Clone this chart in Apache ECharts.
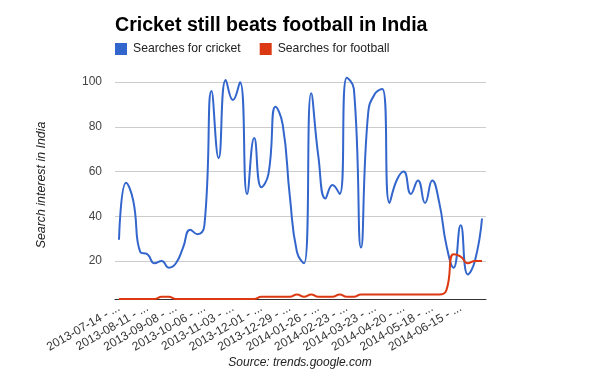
<!DOCTYPE html>
<html>
<head>
<meta charset="utf-8">
<script src="https://cdn.jsdelivr.net/npm/echarts@6/dist/echarts.min.js"></script>
<style>
html,body{margin:0;padding:0;background:#fff;}
#chart{width:600px;height:371px;}
</style>
</head>
<body>
<div id="chart"></div>
<script>
// Week start dates (weekly Google Trends buckets)
const weeks = [
  '2013-07-14','2013-07-21','2013-07-28','2013-08-04','2013-08-11','2013-08-18','2013-08-25',
  '2013-09-01','2013-09-08','2013-09-15','2013-09-22','2013-09-29','2013-10-06','2013-10-13',
  '2013-10-20','2013-10-27','2013-11-03','2013-11-10','2013-11-17','2013-11-24','2013-12-01',
  '2013-12-08','2013-12-15','2013-12-22','2013-12-29','2014-01-05','2014-01-12','2014-01-19',
  '2014-01-26','2014-02-02','2014-02-09','2014-02-16','2014-02-23','2014-03-02','2014-03-09',
  '2014-03-16','2014-03-23','2014-03-30','2014-04-06','2014-04-13','2014-04-20','2014-04-27',
  '2014-05-04','2014-05-11','2014-05-18','2014-05-25','2014-06-01','2014-06-08','2014-06-15',
  '2014-06-22','2014-06-29','2014-07-06'
];
const cricket = [
  29.5,55,47,24,23,19,20,17,19,26,34,32,36,
  96,66,101,92,100,50,75,53,59,89,81,49,24,19,
  95,67,48,54,50,102,97,26,86,95,97,46,
  56,60,50,56,46,56,46,27,17,36,14,20,39
];
const football = [
  3,3,3,3,3,3,4,4,3,3,3,3,3,3,3,3,3,3,3,3,
  4,4,4,4,4,5,4,5,4,4,4,5,4,4,
  5,5,5,5,5,5,5,5,5,5,5,5,
  7,23,22,19,20,20
];
const xTickIndex = [0,4,8,12,16,20,24,28,32,36,40,44,48];
const yTicks = [20,40,60,80,100];
const seriesNames = ['Searches for cricket','Searches for football'];

const FONT = "'Liberation Sans', Arial, sans-serif";
const chart = echarts.init(document.getElementById('chart'), null, {renderer:'canvas'});
const toPairs = arr => arr.map((v,i) => [i, v]);

chart.setOption({
  animation: false,
  backgroundColor: '#ffffff',
  title: {
    text: 'Cricket still beats football in India',
    left: 110, top: 11,
    textStyle: {fontFamily: FONT, fontSize: 19.6, fontWeight: 'bold', color: '#000'}
  },
  legend: {
    data: seriesNames,
    left: 110, top: 38,
    icon: 'rect', itemWidth: 12, itemHeight: 12, itemGap: 19,
    textStyle: {fontFamily: FONT, fontSize: 12.2, color: '#222', padding: [0,0,0,1]}
  },
  graphic: [{
    type: 'text', left: 'center', top: 357,
    style: {text: 'Source: trends.google.com', font: 'italic 12px ' + FONT, fill: '#222'}
  }],
  grid: {left: 115, right: 114, top: 71, bottom: 72},
  xAxis: {
    type: 'value', min: -0.56, max: 51.56,
    axisLine: {show: true, lineStyle: {color: '#333', width: 1}},
    axisTick: {show: false, customValues: xTickIndex},
    splitLine: {show: false},
    axisLabel: {
      customValues: xTickIndex, rotate: 30, margin: 8,
      fontFamily: FONT, fontSize: 12, color: '#333',
      formatter: v => weeks[v] + ' - ...'
    }
  },
  yAxis: {
    type: 'value', min: 3, max: 105,
    name: 'Search interest in India', nameLocation: 'middle', nameGap: 67,
    nameTextStyle: {fontFamily: FONT, fontSize: 12.4, fontStyle: 'italic', color: '#222'},
    axisLine: {show: false},
    axisTick: {show: false, customValues: yTicks},
    splitLine: {show: true, lineStyle: {color: '#cccccc', width: 1}},
    axisLabel: {customValues: yTicks, margin: 13, fontFamily: FONT, fontSize: 12, color: '#444'}
  },
  series: [
    {name: seriesNames[0], type: 'line', data: toPairs(cricket), smooth: 0.5,
     showSymbol: false, symbol: 'none', color: '#3366cc', lineStyle: {width: 2, color: '#3366cc'}},
    {name: seriesNames[1], type: 'line', data: toPairs(football), smooth: 0.5,
     showSymbol: false, symbol: 'none', color: '#dc3912', lineStyle: {width: 2, color: '#dc3912'}}
  ]
});
</script>
</body>
</html>
